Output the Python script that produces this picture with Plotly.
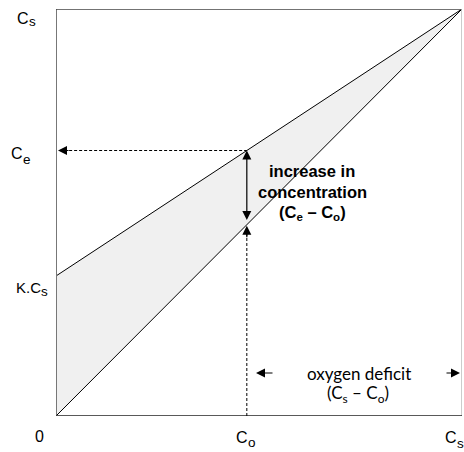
import plotly.graph_objects as go

# Normalised concentrations (fraction of saturation Cs)
x_ends = [0.0, 1.0]
k_cs = 0.344        # K.Cs intercept of the mixing line
c_o = 0.47          # initial concentration Co
c_s = 1.0           # saturation Cs
c_e = k_cs + (c_s - k_cs) * c_o   # Ce on the upper line at Co

upper_line = [k_cs, c_s]
lower_line = [0.0, c_s]

FONT = "Liberation Sans, Arial, sans-serif"
LIGHT = "Lato, Liberation Sans, sans-serif"

# plot-area geometry in pixels, used to place labels in paper coordinates
L, R, T, B = 56, 2, 9, 36
W, H = 464, 452
PW, PH = W - L - R, H - T - B


def px(x):
    return (x - L) / PW


def py(y):
    return (H - B - y) / PH


fig = go.Figure()
fig.add_trace(go.Scatter(x=x_ends, y=lower_line, mode="lines",
                         line=dict(color="black", width=1), hoverinfo="skip"))
fig.add_trace(go.Scatter(x=x_ends, y=upper_line, mode="lines", fill="tonexty",
                         fillcolor="#f0f0f0",
                         line=dict(color="black", width=1), hoverinfo="skip"))

DASH = "3px,2px"
shapes = [
    # frame
    dict(type="line", xref="x", yref="y", x0=0, x1=0, y0=0, y1=1,
         line=dict(color="#777777", width=2)),
    dict(type="line", xref="x", yref="y", x0=0, x1=1, y0=1, y1=1,
         line=dict(color="#444444", width=1.5)),
    dict(type="line", xref="x", yref="y", x0=1, x1=1, y0=0, y1=1,
         line=dict(color="#bbbbbb", width=1.5)),
    dict(type="line", xref="x", yref="y", x0=0, x1=1, y0=0, y1=0,
         line=dict(color="#222222", width=1.5)),
    # dashed guides
    dict(type="line", xref="x", yref="y", x0=0.02, x1=c_o, y0=c_e, y1=c_e,
         line=dict(color="black", width=1, dash=DASH)),
    dict(type="line", xref="x", yref="y", x0=c_o, x1=c_o, y0=0, y1=c_o - 0.02,
         line=dict(color="black", width=1, dash=DASH)),
]

ARW = dict(showarrow=True, arrowhead=2, arrowsize=1.5, arrowwidth=1.2,
           arrowcolor="black", text="")
ann = []
# arrowheads on dashed guides
ann.append(dict(x=0.0, y=c_e, xref="x", yref="y", ax=14, ay=0, standoff=2, **ARW))
ann.append(dict(x=c_o, y=c_o, xref="x", yref="y", ax=0, ay=14, standoff=1, **ARW))
# double arrow Ce - Co
ann.append(dict(x=c_o, y=c_e, xref="x", yref="y", axref="x", ayref="y",
                ax=c_o, ay=c_o + 0.008, startarrowhead=2, arrowside="end+start",
                startarrowsize=1.5, **ARW))
# oxygen deficit arrows
ann.append(dict(x=px(256), y=py(373), xref="paper", yref="paper", ax=18, ay=0, **ARW))
ann.append(dict(x=px(460), y=py(373), xref="paper", yref="paper", ax=-15, ay=0, **ARW))


def text(x, y, s, font, xanchor="center", **kw):
    ann.append(dict(x=px(x), y=py(y), xref="paper", yref="paper", showarrow=False,
                    text=s, font=font, xanchor=xanchor, yanchor="middle", **kw))


# annotation of the concentration increase
bold = dict(family=FONT, size=16.5, color="black")
text(312, 171, "<b>increase in</b>", bold)
text(312, 192, "<b>concentration</b>", bold)
text(312, 213, "<b>(C<sub>e</sub> – C<sub>o</sub>)</b>", bold)

# annotation of the oxygen deficit
light = dict(family=LIGHT, size=17, color="black")
text(359, 373, "oxygen deficit", light)
text(358, 394, "(C<sub>s</sub> – C<sub>o</sub>)", light)


def label(x_split, y_main, main, s, y_sub, size=16, ssize=13.5):
    """Letter right-aligned at x_split with its subscript left-aligned after it."""
    text(x_split, y_main, main, dict(family=FONT, size=size, color="black"),
         xanchor="right", xshift=1, borderpad=0)
    text(x_split, y_sub, s, dict(family=FONT, size=ssize, color="black"),
         xanchor="left", xshift=-1, borderpad=0)


label(29, 18, "C", "s", 22)
label(22.5, 153, "C", "e", 159)
label(41, 287, "K.C", "s", 292, size=15)
text(39.5, 436, "0", dict(family=FONT, size=16, color="black"))
label(248, 437, "C", "o", 442)
label(457, 438, "C", "s", 443)

fig.update_layout(
    width=W, height=H,
    margin=dict(l=L, r=R, t=T, b=B),
    paper_bgcolor="white", plot_bgcolor="white",
    showlegend=False,
    xaxis=dict(range=[0, 1], showgrid=False, zeroline=False, showticklabels=False,
               ticks="", showline=False, fixedrange=True),
    yaxis=dict(range=[0, 1], showgrid=False, zeroline=False, showticklabels=False,
               ticks="", showline=False, fixedrange=True),
    shapes=shapes,
    annotations=ann,
)

fig.write_html("out.html")
